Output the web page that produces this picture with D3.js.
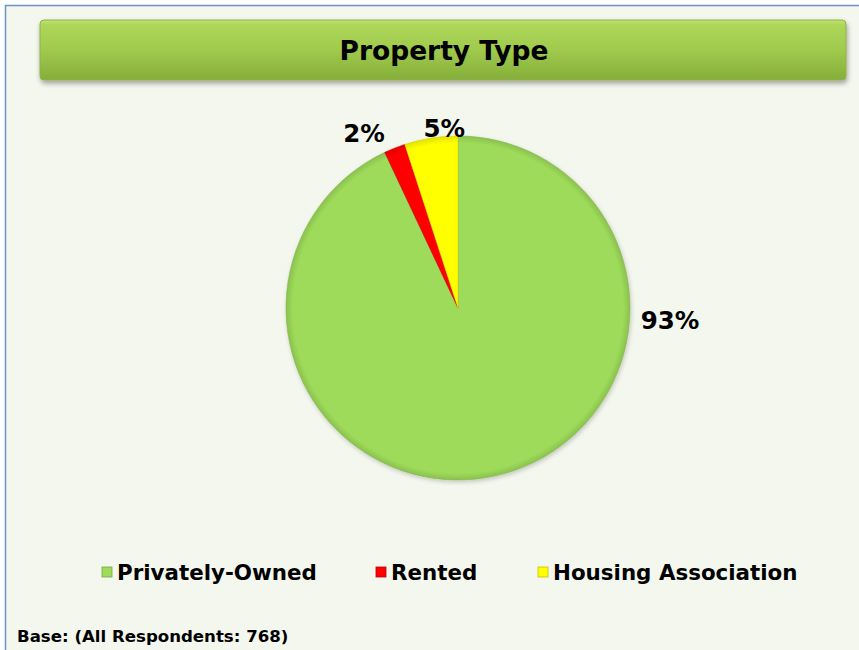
<!DOCTYPE html>
<html>
<head>
<meta charset="utf-8">
<script src="https://cdn.jsdelivr.net/npm/d3@7"></script>
<style>
  html, body { margin: 0; padding: 0; background: #ffffff; }
  svg { display: block; font-family: "DejaVu Sans", Verdana, sans-serif; font-weight: bold; }
</style>
</head>
<body>
<div id="chart"></div>
<script>
// chart data
const categories = ['Privately-Owned', 'Rented', 'Housing Association'];
const shares = [93, 2, 5];
const labels = ['93%', '2%', '5%'];
const colours = ['#9edb5a', '#ff0000', '#ffff00'];

const titleText = 'Property Type';
const baseText = 'Base: (All Respondents: 768)';

const width = 859, height = 650;
const cx = 458, cy = 308, radius = 172;

const svg = d3.select('#chart').append('svg')
    .attr('width', width)
    .attr('height', height);

const defs = svg.append('defs');

// title bar gradient
const tg = defs.append('linearGradient').attr('id', 'titleGrad')
    .attr('x1', 0).attr('y1', 0).attr('x2', 0).attr('y2', 1);
tg.append('stop').attr('offset', '0%').attr('stop-color', '#c2e472');
tg.append('stop').attr('offset', '8%').attr('stop-color', '#acd75a');
tg.append('stop').attr('offset', '50%').attr('stop-color', '#9fca4c');
tg.append('stop').attr('offset', '100%').attr('stop-color', '#86ae3a');

const shadow = defs.append('filter').attr('id', 'shadow')
    .attr('x', '-10%').attr('y', '-10%').attr('width', '120%').attr('height', '130%');
shadow.append('feDropShadow').attr('dx', 1).attr('dy', 3).attr('stdDeviation', 2.5)
    .attr('flood-color', '#000').attr('flood-opacity', 0.35);

const pieShadow = defs.append('filter').attr('id', 'pieShadow')
    .attr('x', '-10%').attr('y', '-10%').attr('width', '120%').attr('height', '120%');
pieShadow.append('feDropShadow').attr('dx', 1).attr('dy', 2).attr('stdDeviation', 2)
    .attr('flood-color', '#000').attr('flood-opacity', 0.2);

// radial shading per slice colour (gradient is in the pie group's coordinates)
colours.forEach((c, i) => {
    const rg = defs.append('radialGradient').attr('id', 'slice' + i)
        .attr('gradientUnits', 'userSpaceOnUse')
        .attr('cx', 0).attr('cy', 0).attr('r', radius);
    rg.append('stop').attr('offset', '0%').attr('stop-color', c);
    rg.append('stop').attr('offset', '96%').attr('stop-color', c);
    rg.append('stop').attr('offset', '100%').attr('stop-color', d3.color(c).darker(0.35));
});

// background + frame
svg.append('rect')
    .attr('x', 5.5).attr('y', 5.5)
    .attr('width', width + 10).attr('height', height + 10)
    .attr('fill', '#f4f7ee')
    .attr('stroke', '#6d93c8')
    .attr('stroke-width', 1.5);

// title bar
svg.append('rect')
    .attr('x', 40).attr('y', 20)
    .attr('width', 806).attr('height', 60)
    .attr('rx', 4)
    .attr('fill', 'url(#titleGrad)')
    .attr('stroke', '#8fb24a')
    .attr('filter', 'url(#shadow)');

svg.append('text')
    .attr('x', 444).attr('y', 50)
    .attr('text-anchor', 'middle')
    .attr('dominant-baseline', 'central')
    .attr('font-size', 26.5)
    .attr('fill', '#000')
    .text(titleText);

// pie
const pie = d3.pie().sort(null).value(d => d);
const arcs = pie(shares);
const arc = d3.arc().innerRadius(0).outerRadius(radius);

const g = svg.append('g')
    .attr('transform', `translate(${cx},${cy})`)
    .attr('filter', 'url(#pieShadow)');

g.selectAll('path')
    .data(arcs)
    .join('path')
    .attr('d', arc)
    .attr('fill', (d, i) => `url(#slice${i})`)
    .attr('stroke', (d, i) => d3.color(colours[i]).darker(0.5))
    .attr('stroke-width', 0.6);

// data labels: outside end, big slice label placed at the right like the reference
const labelArc = d3.arc().innerRadius(radius + 18).outerRadius(radius + 18);
const labelNudge = [[0, 12], [-24, 2], [16, 8]];
svg.append('g')
    .attr('transform', `translate(${cx},${cy})`)
    .selectAll('text')
    .data(arcs)
    .join('text')
    .attr('transform', (d, i) => {
        let p;
        if (i === 0) {
            const r0 = radius + 40;
            p = d3.arc().innerRadius(r0).outerRadius(r0)
                .centroid({ startAngle: Math.PI / 2, endAngle: Math.PI / 2 });
        } else {
            p = labelArc.centroid(d);
        }
        return `translate(${p[0] + labelNudge[i][0]},${p[1] + labelNudge[i][1]})`;
    })
    .attr('text-anchor', 'middle')
    .attr('dominant-baseline', 'central')
    .attr('font-size', 24.5)
    .attr('fill', '#000')
    .text((d, i) => labels[i]);

// legend
const legendX = [102, 376, 538];
const legend = svg.append('g')
    .selectAll('g')
    .data(categories)
    .join('g')
    .attr('transform', (d, i) => `translate(${legendX[i]},572)`);

legend.append('rect')
    .attr('x', 0).attr('y', -5)
    .attr('width', 10).attr('height', 10)
    .attr('fill', (d, i) => colours[i])
    .attr('stroke', (d, i) => d3.color(colours[i]).darker(0.8))
    .attr('stroke-width', 0.8);

legend.append('text')
    .attr('x', 15)
    .attr('y', 0)
    .attr('dominant-baseline', 'central')
    .attr('font-size', 21.4)
    .attr('fill', '#000')
    .text(d => d);

// base note
svg.append('text')
    .attr('x', 17).attr('y', 636)
    .attr('dominant-baseline', 'central')
    .attr('font-size', 16.6)
    .attr('fill', '#000')
    .text(baseText);
</script>
</body>
</html>
